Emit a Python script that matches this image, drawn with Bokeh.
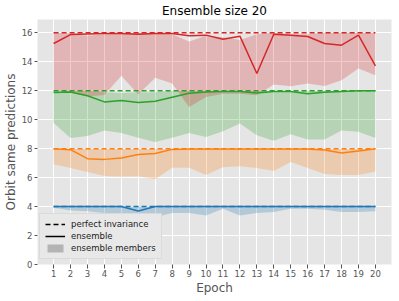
from bokeh.plotting import figure
from bokeh.models import Range1d, FixedTicker, Legend, LegendItem
from bokeh.embed import file_html
from bokeh.resources import INLINE

epochs = list(range(1, 21))

levels = [4, 8, 12, 16]

blue_ens = [4.0, 4.0, 4.0, 4.0, 4.0, 3.7, 4.0, 4.0, 4.0, 4.0, 4.0, 4.0, 4.0, 4.0, 4.0, 4.0, 4.0, 4.0, 4.0, 4.0]
blue_hi = [4.0] * 20
blue_lo = [3.92, 3.73, 3.67, 3.55, 3.55, 3.39, 3.28, 3.55, 3.55, 3.39, 3.85, 3.39, 3.55, 3.62, 3.85, 3.85, 3.78, 3.62, 3.62, 3.67]

orange_ens = [8.0, 7.93, 7.31, 7.26, 7.36, 7.59, 7.66, 7.95, 7.97, 7.97, 7.98, 7.98, 7.98, 7.98, 7.98, 7.98, 7.9, 7.7, 7.84, 8.0]
orange_hi = [8.0] * 20
orange_lo = [6.92, 6.67, 6.39, 6.11, 6.07, 6.09, 5.88, 6.69, 6.69, 6.18, 6.71, 6.78, 6.67, 6.46, 7.08, 6.67, 6.25, 6.18, 6.18, 6.43]

green_ens = [11.87, 11.92, 11.65, 11.23, 11.32, 11.18, 11.27, 11.55, 11.83, 11.92, 11.95, 11.95, 11.85, 11.95, 11.95, 11.8, 11.9, 11.95, 12.0, 12.0]
green_hi = [12.0, 12.0, 12.0, 11.9, 11.85, 11.9, 11.9, 12.0, 12.0, 12.0, 12.0, 12.0, 12.0, 12.0, 12.0, 12.0, 12.0, 12.0, 12.0, 12.0]
green_lo = [9.78, 8.74, 8.88, 9.25, 9.09, 8.76, 8.46, 8.76, 9.09, 8.81, 9.2, 9.73, 8.92, 8.55, 8.99, 8.64, 8.64, 9.25, 9.16, 8.74]

red_ens = [15.26, 15.88, 15.92, 15.95, 15.95, 15.9, 15.95, 15.95, 15.8, 15.84, 15.56, 15.77, 13.19, 15.9, 15.84, 15.75, 15.26, 15.15, 15.84, 13.72]
red_hi = [16.0, 15.95, 15.8, 15.9, 16.0, 16.0, 16.0, 15.9, 15.4, 15.8, 15.7, 15.5, 15.9, 16.0, 15.9, 15.9, 16.0, 16.0, 16.0, 16.0]
red_lo = [12.03, 11.87, 11.6, 11.7, 13.03, 11.74, 12.9, 12.5, 10.88, 11.57, 11.8, 11.8, 11.69, 12.43, 12.31, 12.5, 12.33, 12.73, 13.53, 13.07]

colors = ["#1f77b4", "#ff7f0e", "#2ca02c", "#d62728"]
series = [
    (blue_ens, blue_lo, blue_hi),
    (orange_ens, orange_lo, orange_hi),
    (green_ens, green_lo, green_hi),
    (red_ens, red_lo, red_hi),
]

y_ticks = [0, 2, 4, 6, 8, 10, 12, 14, 16]

FONT = "DejaVu Sans"

p = figure(frame_width=354, frame_height=245, output_backend="svg", toolbar_location=None,
           x_range=Range1d(0.05, 20.95), y_range=Range1d(0, 16.92),
           min_border_left=30, min_border_right=3, min_border_top=17, min_border_bottom=30,
           title="Ensemble size 20")

p.background_fill_color = "#e5e5e5"
p.border_fill_color = "white"
p.outline_line_color = None

p.title.text_font = FONT
p.title.text_font_size = "12px"
p.title.text_font_style = "normal"
p.title.text_color = "black"
p.title.align = "center"
p.title.standoff = 3
p.title.offset = 0

for c, (ens, lo, hi) in zip(colors, series):
    p.varea(x=epochs, y1=lo, y2=hi, fill_color=c, fill_alpha=0.25)

for c, lvl in zip(colors, levels):
    p.line(x=[epochs[0], epochs[-1]], y=[lvl, lvl], line_color=c, line_width=1.5, line_dash="5 3")

for c, (ens, lo, hi) in zip(colors, series):
    p.line(x=epochs, y=ens, line_color=c, line_width=1.5)

# axes
p.xaxis.ticker = FixedTicker(ticks=epochs)
p.yaxis.ticker = FixedTicker(ticks=y_ticks)
p.xaxis.axis_label = "Epoch"
p.yaxis.axis_label = "Orbit same predictions"
for ax in (p.xaxis[0], p.yaxis[0]):
    ax.axis_line_color = None
    ax.major_tick_line_color = "#555555"
    ax.major_tick_in = 0
    ax.minor_tick_line_color = None
    ax.major_label_text_font = FONT
    ax.major_label_text_font_size = "8.5px"
    ax.major_label_text_color = "#555555"
    ax.axis_label_text_font = FONT
    ax.axis_label_text_font_size = "12px"
    ax.axis_label_text_font_style = "normal"
    ax.axis_label_text_color = "#555555"

p.xaxis.major_tick_out = 4
p.xaxis.major_label_standoff = 1
p.xaxis.axis_label_standoff = 1
p.yaxis.major_tick_out = 3
p.yaxis.major_label_standoff = 2
p.yaxis.axis_label_standoff = 1

p.xgrid.grid_line_color = "white"
p.ygrid.grid_line_color = "white"
p.xgrid.grid_line_width = 1
p.ygrid.grid_line_width = 1

# legend proxies (placed outside the visible ranges)
r_dash = p.line(x=[-100, -99], y=[-100, -100], line_color="black", line_width=1.5, line_dash="5 3")
r_solid = p.line(x=[-100, -99], y=[-100, -100], line_color="black", line_width=1.5)
r_area = p.varea(x=[-100, -99], y1=[-100, -100], y2=[-99, -99], fill_color="gray", fill_alpha=0.5)

legend = Legend(items=[
    LegendItem(label="perfect invariance", renderers=[r_dash]),
    LegendItem(label="ensemble", renderers=[r_solid]),
    LegendItem(label="ensemble members", renderers=[r_area]),
], location=(2, 5))
legend.margin = 0
legend.padding = 5
legend.spacing = 2
legend.glyph_width = 20
legend.glyph_height = 10
legend.label_height = 10
legend.label_standoff = 6
legend.label_text_font = FONT
legend.label_text_font_size = "8.5px"
legend.label_text_color = "#222222"
legend.background_fill_color = "#e8e8e8"
legend.background_fill_alpha = 1.0
legend.border_line_color = "#cccccc"
legend.border_line_width = 1
p.add_layout(legend, "center")

open("out.html", "w").write(file_html(p, INLINE))
